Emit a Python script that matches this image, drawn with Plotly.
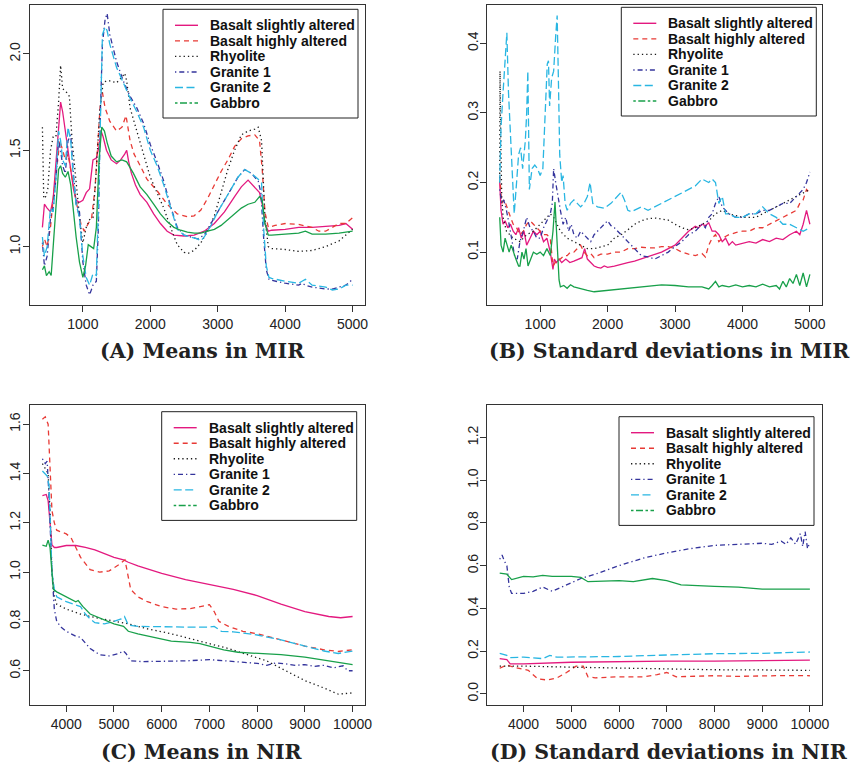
import plotly.graph_objects as go

W, H = 857, 766

series_names = ["Basalt slightly altered", "Basalt highly altered", "Rhyolite",
                "Granite 1", "Granite 2", "Gabbro"]
series_colors = ["#E3197F", "#E83A35", "#1A1A1A", "#34349C", "#29B6E2", "#18A04A"]
plot_dash = ["solid", "5px,4px", "1.3px,3px", "1.3px,3px,5px,3px", "8px,3.5px", "solid"]
legend_dash = ["solid", "5px,4px", "1.3px,3px", "1.3px,3px,5px,3px", "8px,3.5px", "2.5px,2.5px,7px,2.5px"]

# ---------------- Panel A: means in MIR ----------------
A_bsa_x = [400,430,470,520,560,600,640,670,700,740,780,820,860,900,950,1000,1050,1100,1150,1200,1240,1270,1300,1350,1420,1500,1560,1620,1650,1680,1720,1780,1850,1950,2050,2150,2250,2350,2500,2650,2800,2950,3100,3250,3350,3450,3550,3620,3660,3700,3750,3800,4000,4200,4400,4600,4800,4900,5000]
A_bsa_y = [1.10,1.22,1.20,1.18,1.25,1.45,1.60,1.75,1.70,1.60,1.52,1.40,1.30,1.24,1.23,1.24,1.28,1.30,1.45,1.46,1.52,1.60,1.57,1.50,1.45,1.43,1.45,1.48,1.50,1.44,1.38,1.32,1.27,1.23,1.17,1.12,1.08,1.06,1.055,1.06,1.08,1.12,1.18,1.26,1.31,1.345,1.31,1.28,1.22,1.12,1.08,1.085,1.09,1.10,1.10,1.105,1.11,1.12,1.09]
A_bha_x = [400,430,470,520,560,620,660,700,740,780,820,870,920,970,1020,1080,1130,1180,1220,1260,1290,1330,1400,1500,1580,1640,1700,1760,1850,1950,2100,2250,2400,2550,2650,2750,2850,2950,3050,3150,3250,3350,3450,3550,3620,3660,3700,3750,3850,4000,4200,4400,4500,4600,4700,4800,4900,5000]
A_bha_y = [1.00,1.04,1.00,1.10,1.25,1.45,1.55,1.50,1.45,1.48,1.40,1.28,1.20,1.12,1.08,1.12,1.15,1.30,1.55,1.75,1.80,1.72,1.65,1.60,1.62,1.68,1.55,1.48,1.42,1.35,1.29,1.22,1.17,1.155,1.16,1.19,1.25,1.32,1.39,1.45,1.52,1.56,1.575,1.58,1.55,1.40,1.18,1.10,1.11,1.12,1.115,1.10,1.08,1.08,1.10,1.12,1.12,1.15]
A_rhy_x = [400,405,420,450,480,520,560,600,640,670,700,760,800,840,880,920,960,1000,1050,1100,1150,1200,1250,1300,1350,1400,1500,1580,1620,1650,1700,1800,1900,2000,2100,2200,2300,2400,2500,2560,2650,2750,2850,2950,3050,3150,3250,3350,3450,3550,3600,3650,3700,3750,3800,4000,4200,4400,4600,4800,5000]
A_rhy_y = [1.62,1.45,1.25,1.26,1.30,1.50,1.57,1.57,1.75,1.94,1.82,1.80,1.78,1.55,1.40,1.25,1.12,1.02,1.10,1.14,1.15,1.40,1.70,1.85,1.86,1.86,1.85,1.88,1.90,1.86,1.72,1.60,1.48,1.36,1.28,1.20,1.10,1.01,0.97,0.965,0.98,1.02,1.08,1.16,1.28,1.40,1.50,1.58,1.60,1.61,1.62,1.55,1.15,1.00,0.99,0.985,0.975,0.98,1.00,1.03,1.09]
A_g1_x = [400,430,470,520,560,600,640,670,700,740,780,820,860,900,950,1000,1050,1100,1150,1200,1230,1260,1290,1330,1360,1400,1500,1600,1700,1800,1900,2000,2100,2200,2300,2400,2500,2600,2700,2800,2900,3000,3100,3200,3300,3400,3500,3600,3640,3680,3720,3760,3800,4000,4200,4250,4300,4400,4600,4700,4800,4900,5000]
A_g1_y = [1.02,0.90,0.95,1.15,1.20,1.35,1.55,1.50,1.42,1.38,1.55,1.58,1.38,1.22,1.18,0.92,0.80,0.75,0.80,0.82,1.10,1.70,2.05,2.18,2.21,2.10,1.96,1.86,1.78,1.72,1.64,1.53,1.44,1.34,1.21,1.10,1.06,1.05,1.04,1.06,1.12,1.18,1.24,1.30,1.36,1.40,1.38,1.34,1.28,1.05,0.88,0.83,0.825,0.81,0.80,0.81,0.80,0.79,0.78,0.78,0.79,0.80,0.83]
A_g2_x = [400,430,470,520,560,600,640,670,700,740,780,820,860,900,950,1000,1050,1100,1150,1200,1230,1260,1290,1330,1360,1400,1500,1600,1700,1800,1900,2000,2100,2200,2300,2400,2500,2600,2700,2750,2800,2900,3000,3100,3200,3300,3400,3500,3600,3650,3680,3720,3760,3800,4000,4200,4250,4300,4400,4500,4600,4700,4800,4900,5000]
A_g2_y = [1.05,0.95,1.00,1.20,1.18,1.35,1.60,1.55,1.45,1.42,1.62,1.55,1.35,1.22,1.15,0.95,0.84,0.80,0.86,0.85,1.20,1.75,2.10,2.14,2.12,2.05,1.93,1.85,1.77,1.70,1.62,1.50,1.42,1.32,1.20,1.09,1.06,1.05,1.04,1.03,1.05,1.11,1.18,1.24,1.30,1.36,1.40,1.38,1.35,1.33,1.10,0.90,0.84,0.835,0.82,0.81,0.82,0.83,0.80,0.795,0.79,0.775,0.78,0.80,0.80]
A_gab_x = [400,430,460,500,530,560,600,640,670,700,740,780,820,860,900,950,1000,1040,1080,1120,1160,1200,1240,1280,1320,1360,1420,1500,1580,1650,1750,1850,1950,2050,2150,2250,2350,2450,2550,2650,2750,2850,2950,3050,3150,3250,3350,3450,3550,3620,3660,3700,3750,3800,4000,4200,4300,4400,4600,4800,5000]
A_gab_y = [0.88,0.90,0.85,0.87,0.85,1.00,1.20,1.40,1.42,1.38,1.36,1.39,1.32,1.18,1.05,0.92,0.84,0.90,1.01,1.00,0.99,1.10,1.45,1.62,1.60,1.54,1.47,1.44,1.45,1.44,1.38,1.31,1.27,1.22,1.17,1.13,1.10,1.085,1.075,1.07,1.07,1.08,1.09,1.11,1.14,1.17,1.20,1.22,1.23,1.26,1.24,1.12,1.06,1.06,1.065,1.07,1.08,1.065,1.065,1.07,1.08]

# ---------------- Panel B: standard deviations in MIR ----------------
B_bsa_x = [400,420,450,480,520,560,600,640,680,720,760,800,850,900,950,1000,1050,1100,1150,1190,1210,1240,1280,1320,1380,1440,1500,1560,1620,1660,1700,1750,1800,1850,1900,1950,2000,2100,2200,2300,2400,2500,2600,2700,2800,2900,3000,3100,3200,3300,3350,3400,3450,3500,3550,3600,3650,3700,3750,3800,3850,3900,4000,4100,4200,4300,4400,4500,4600,4700,4800,4850,4900,4950,5000]
B_bsa_y = [0.20,0.16,0.14,0.145,0.135,0.14,0.13,0.125,0.135,0.12,0.13,0.11,0.12,0.13,0.125,0.13,0.115,0.12,0.10,0.075,0.09,0.085,0.09,0.085,0.09,0.085,0.087,0.09,0.092,0.105,0.09,0.085,0.08,0.078,0.077,0.08,0.078,0.08,0.083,0.085,0.087,0.09,0.093,0.096,0.10,0.105,0.11,0.12,0.13,0.137,0.135,0.14,0.138,0.142,0.13,0.13,0.125,0.115,0.12,0.11,0.115,0.11,0.112,0.115,0.113,0.118,0.115,0.12,0.118,0.125,0.13,0.125,0.14,0.16,0.14]
B_bha_x = [400,430,470,520,560,600,650,700,750,800,850,900,950,1000,1050,1100,1150,1190,1220,1260,1300,1350,1400,1450,1500,1550,1600,1650,1700,1750,1800,1850,1900,2000,2100,2200,2300,2400,2500,2600,2700,2800,2900,3000,3100,3200,3300,3400,3450,3500,3550,3600,3650,3700,3800,3900,4000,4100,4200,4300,4400,4500,4600,4700,4800,4850,4900,4950,5000]
B_bha_y = [0.21,0.17,0.175,0.16,0.15,0.14,0.135,0.125,0.13,0.14,0.145,0.14,0.135,0.13,0.125,0.125,0.12,0.08,0.085,0.09,0.09,0.095,0.095,0.10,0.10,0.105,0.11,0.10,0.095,0.098,0.092,0.095,0.097,0.097,0.10,0.10,0.105,0.105,0.107,0.106,0.106,0.108,0.108,0.105,0.10,0.097,0.095,0.098,0.093,0.11,0.12,0.125,0.115,0.12,0.125,0.128,0.13,0.13,0.135,0.135,0.14,0.145,0.15,0.155,0.16,0.17,0.175,0.19,0.185]
B_rhy_x = [400,405,410,430,450,500,550,600,700,800,900,1000,1100,1150,1200,1300,1400,1500,1600,1700,1800,1900,2000,2100,2200,2300,2400,2500,2600,2700,2800,2900,3000,3100,3200,3300,3400,3500,3600,3700,3800,3900,4000,4100,4200,4300,4400,4500,4600,4700,4800,4900,5000]
B_rhy_y = [0.20,0.36,0.30,0.18,0.15,0.13,0.125,0.12,0.115,0.125,0.13,0.14,0.15,0.155,0.15,0.13,0.12,0.115,0.11,0.105,0.105,0.107,0.11,0.12,0.125,0.132,0.14,0.145,0.148,0.149,0.148,0.146,0.14,0.135,0.132,0.135,0.14,0.145,0.155,0.16,0.155,0.152,0.15,0.15,0.15,0.155,0.16,0.165,0.17,0.175,0.18,0.185,0.19]
B_g1_x = [400,430,460,500,540,580,620,660,700,750,800,850,900,950,1000,1050,1100,1150,1180,1200,1230,1260,1300,1340,1380,1420,1460,1500,1550,1600,1650,1700,1750,1800,1850,1900,1950,2000,2050,2100,2200,2300,2400,2500,2600,2700,2800,2900,3000,3100,3200,3300,3400,3450,3500,3550,3600,3650,3700,3750,3800,3900,4000,4100,4200,4300,4400,4500,4600,4700,4800,4900,4950,5000]
B_g1_y = [0.19,0.17,0.175,0.16,0.14,0.12,0.095,0.09,0.115,0.13,0.15,0.135,0.13,0.12,0.12,0.135,0.145,0.155,0.17,0.22,0.20,0.18,0.16,0.14,0.15,0.13,0.14,0.125,0.12,0.13,0.125,0.12,0.115,0.125,0.13,0.135,0.14,0.145,0.138,0.135,0.125,0.115,0.105,0.095,0.093,0.09,0.095,0.10,0.108,0.115,0.125,0.13,0.14,0.135,0.15,0.155,0.17,0.18,0.165,0.16,0.155,0.15,0.15,0.155,0.155,0.16,0.16,0.165,0.17,0.17,0.18,0.19,0.20,0.215]
B_g2_x = [400,420,450,480,506,530,560,590,615,650,680,710,740,780,800,817,840,880,920,960,1000,1040,1080,1105,1123,1140,1170,1200,1230,1252,1270,1290,1320,1340,1370,1400,1450,1500,1550,1600,1650,1700,1740,1780,1850,1950,2050,2150,2200,2250,2300,2350,2400,2500,2600,2700,2800,2900,3000,3100,3200,3300,3400,3500,3550,3600,3650,3700,3750,3800,3900,4000,4100,4200,4300,4400,4500,4600,4700,4800,4900,5000]
B_g2_y = [0.20,0.28,0.33,0.38,0.415,0.33,0.27,0.20,0.155,0.20,0.24,0.25,0.22,0.26,0.30,0.36,0.19,0.22,0.225,0.22,0.21,0.22,0.30,0.37,0.375,0.31,0.35,0.36,0.41,0.44,0.35,0.24,0.20,0.21,0.17,0.16,0.17,0.175,0.17,0.165,0.17,0.18,0.20,0.17,0.165,0.163,0.17,0.18,0.186,0.175,0.16,0.158,0.16,0.165,0.16,0.165,0.17,0.175,0.18,0.185,0.19,0.195,0.205,0.20,0.205,0.20,0.17,0.18,0.155,0.155,0.15,0.15,0.155,0.155,0.165,0.155,0.15,0.14,0.14,0.135,0.13,0.135]
B_gab_x = [400,420,450,480,510,540,570,600,640,680,700,730,760,790,820,860,900,950,1000,1050,1100,1150,1190,1220,1240,1260,1280,1300,1350,1400,1450,1500,1600,1700,1800,1900,2000,2200,2400,2600,2800,3000,3200,3400,3500,3550,3600,3650,3700,3800,3900,4000,4100,4200,4300,4400,4500,4550,4600,4650,4700,4750,4800,4850,4900,4950,5000]
B_gab_y = [0.15,0.11,0.10,0.12,0.11,0.10,0.11,0.10,0.09,0.08,0.08,0.10,0.09,0.105,0.08,0.09,0.10,0.097,0.10,0.095,0.105,0.095,0.13,0.172,0.13,0.08,0.06,0.05,0.052,0.048,0.053,0.05,0.047,0.045,0.043,0.044,0.045,0.047,0.05,0.052,0.053,0.052,0.05,0.05,0.047,0.052,0.058,0.05,0.052,0.05,0.053,0.05,0.052,0.05,0.054,0.05,0.052,0.047,0.058,0.05,0.062,0.055,0.068,0.052,0.07,0.05,0.068]

# ---------------- Panel C: means in NIR ----------------
C_bsa_x = [3500,3580,3620,3660,3700,3750,3800,4000,4200,4400,4600,4800,5000,5200,5300,5500,6000,6500,7000,7500,8000,8500,9000,9500,9750,10000]
C_bsa_y = [1.31,1.315,1.29,1.20,1.11,1.10,1.10,1.108,1.108,1.10,1.09,1.075,1.06,1.05,1.04,1.025,0.995,0.97,0.95,0.93,0.905,0.87,0.84,0.82,0.815,0.82]
C_bha_x = [3500,3560,3620,3660,3700,3750,3800,4000,4100,4200,4300,4500,4700,4900,5100,5230,5280,5350,5500,5700,6000,6300,6600,6800,7000,7100,7200,7400,7700,8000,8300,8600,9000,9400,9700,10000]
C_bha_y = [1.62,1.63,1.60,1.40,1.25,1.20,1.17,1.155,1.14,1.10,1.06,1.01,1.00,1.005,1.03,1.05,1.00,0.93,0.90,0.88,0.86,0.85,0.852,0.86,0.868,0.84,0.80,0.78,0.76,0.75,0.735,0.72,0.70,0.685,0.678,0.685]
C_rhy_x = [3500,3560,3620,3660,3700,3750,3800,4000,4300,4500,5000,5300,5700,6200,6600,7000,7400,7800,8200,8600,9000,9400,9700,10000]
C_rhy_y = [1.44,1.42,1.40,1.25,1.00,0.90,0.87,0.85,0.83,0.82,0.80,0.79,0.77,0.75,0.73,0.71,0.69,0.665,0.64,0.60,0.56,0.53,0.505,0.51]
C_g1_x = [3500,3560,3600,3640,3700,3750,3800,3900,4000,4200,4300,4400,4500,4700,4900,5100,5200,5250,5350,5600,6000,6500,7000,7300,7600,8000,8200,8400,8600,8800,9000,9200,9400,9600,9800,9900,10000]
C_g1_y = [1.46,1.44,1.45,1.30,1.00,0.85,0.80,0.775,0.76,0.74,0.735,0.71,0.69,0.665,0.66,0.67,0.68,0.67,0.64,0.637,0.637,0.64,0.645,0.64,0.635,0.63,0.622,0.632,0.628,0.622,0.625,0.618,0.622,0.612,0.62,0.60,0.60]
C_g2_x = [3500,3560,3600,3640,3700,3750,3800,4000,4200,4300,4400,4500,4600,4800,5000,5150,5220,5300,5500,6000,6500,7000,7100,7250,7500,8000,8500,9000,9400,9700,10000]
C_g2_y = [1.41,1.40,1.39,1.35,1.00,0.93,0.90,0.88,0.865,0.86,0.83,0.81,0.795,0.79,0.80,0.81,0.82,0.785,0.78,0.778,0.777,0.777,0.78,0.76,0.758,0.745,0.725,0.70,0.68,0.67,0.68]
C_gab_x = [3500,3580,3620,3660,3700,3730,3800,4000,4150,4200,4250,4350,4500,4700,5000,5200,5300,5500,6000,6200,6600,6800,7000,7300,7600,8000,8500,9000,9500,10000]
C_gab_y = [1.11,1.105,1.13,1.10,1.00,0.93,0.92,0.90,0.885,0.88,0.885,0.86,0.83,0.815,0.79,0.78,0.76,0.75,0.73,0.72,0.715,0.71,0.70,0.685,0.675,0.67,0.665,0.655,0.64,0.625]

# ---------------- Panel D: standard deviations in NIR ----------------
D_bsa_x = [3500,3650,3720,4000,5000,6000,7000,8000,9000,10000]
D_bsa_y = [0.165,0.16,0.14,0.14,0.148,0.152,0.153,0.153,0.155,0.158]
D_bha_x = [3500,3650,3800,4100,4300,4500,4700,4900,5100,5250,5350,5500,6000,6500,6800,7000,7200,7500,8000,8500,9000,9500,10000]
D_bha_y = [0.12,0.135,0.125,0.11,0.07,0.065,0.075,0.10,0.13,0.13,0.08,0.075,0.08,0.08,0.09,0.10,0.08,0.083,0.085,0.082,0.085,0.086,0.085]
D_rhy_x = [3500,4000,5000,6000,7000,8000,9000,10000]
D_rhy_y = [0.13,0.13,0.125,0.12,0.115,0.113,0.112,0.11]
D_g1_x = [3500,3550,3600,3650,3700,3750,4000,4200,4400,4600,4800,5000,5200,5500,6000,6500,7000,7500,8000,8500,9000,9200,9400,9500,9600,9700,9800,9850,9900,9950,10000]
D_g1_y = [0.63,0.65,0.62,0.60,0.50,0.47,0.47,0.48,0.50,0.48,0.50,0.52,0.54,0.56,0.60,0.635,0.66,0.68,0.695,0.70,0.705,0.70,0.715,0.70,0.73,0.70,0.75,0.69,0.76,0.68,0.71]
D_g2_x = [3500,3650,3720,4000,4400,4550,4700,5000,5300,6000,7000,8000,9000,10000]
D_g2_y = [0.19,0.18,0.17,0.172,0.165,0.18,0.172,0.172,0.175,0.175,0.182,0.188,0.19,0.196]
D_gab_x = [3500,3600,3650,3750,4000,4200,4400,4600,5000,5200,5350,6000,6300,6700,7000,7300,7700,8000,8500,9000,9500,10000]
D_gab_y = [0.565,0.56,0.56,0.535,0.55,0.548,0.555,0.55,0.55,0.545,0.525,0.53,0.525,0.54,0.53,0.51,0.505,0.503,0.50,0.49,0.49,0.49]

# tick values
MIR_xticks = [1000, 2000, 3000, 4000, 5000]
NIR_xticks = [4000, 5000, 6000, 7000, 8000, 9000, 10000]
A_yticks = [1.0, 1.5, 2.0]
B_yticks = [0.1, 0.2, 0.3, 0.4]
C_yticks = [0.6, 0.8, 1.0, 1.2, 1.4, 1.6]
D_yticks = [0.0, 0.2, 0.4, 0.6, 0.8, 1.0, 1.2]

titles = ["(A) Means in MIR", "(B) Standard deviations in MIR",
          "(C) Means in NIR", "(D) Standard deviations in NIR"]

panels = [
    dict(ax="", data=[(A_bsa_x, A_bsa_y), (A_bha_x, A_bha_y), (A_rhy_x, A_rhy_y),
                      (A_g1_x, A_g1_y), (A_g2_x, A_g2_y), (A_gab_x, A_gab_y)],
         box=(30, 5, 365, 305), xr=[216, 5184], yr=[0.697, 2.254],
         xt=MIR_xticks, yt=A_yticks, leg=(163, 9.3), title=(202.5, 351.5)),
    dict(ax="2", data=[(B_bsa_x, B_bsa_y), (B_bha_x, B_bha_y), (B_rhy_x, B_rhy_y),
                       (B_g1_x, B_g1_y), (B_g2_x, B_g2_y), (B_gab_x, B_gab_y)],
         box=(487.3, 5, 822.3, 305), xr=[216, 5184], yr=[0.024, 0.455],
         xt=MIR_xticks, yt=B_yticks, leg=(621.3, 7.3), title=(669, 351.5)),
    dict(ax="3", data=[(C_bsa_x, C_bsa_y), (C_bha_x, C_bha_y), (C_rhy_x, C_rhy_y),
                       (C_g1_x, C_g1_y), (C_g2_x, C_g2_y), (C_gab_x, C_gab_y)],
         box=(30, 405, 365, 705), xr=[3240, 10260], yr=[0.461, 1.678],
         xt=NIR_xticks, yt=C_yticks, leg=(161.7, 411.7), title=(201.5, 751.5)),
    dict(ax="4", data=[(D_bsa_x, D_bsa_y), (D_bha_x, D_bha_y), (D_rhy_x, D_rhy_y),
                       (D_g1_x, D_g1_y), (D_g2_x, D_g2_y), (D_gab_x, D_gab_y)],
         box=(487.3, 405, 822.3, 705), xr=[3240, 10260], yr=[-0.052, 1.352],
         xt=NIR_xticks, yt=D_yticks, leg=(619, 416.7), title=(669, 751.5)),
]


def px(x):
    return x / W


def py(y):
    return 1 - y / H


fig = go.Figure()
shapes = []
annotations = []
tickfont = dict(family="Liberation Sans, Arial, sans-serif", size=14, color="#222")
legfont = dict(family="Liberation Sans, Arial, sans-serif", size=14, color="#111", weight="bold")
titlefont = dict(family="DejaVu Serif, serif", size=20.5, color="#222", weight="bold")

layout_axes = {}
for k, p in enumerate(panels):
    ax = p["ax"]
    for i, (xs, ys) in enumerate(p["data"]):
        assert len(xs) == len(ys), (k, i, len(xs), len(ys))
        fig.add_trace(go.Scatter(
            x=xs, y=ys, mode="lines", name=series_names[i], showlegend=False,
            line=dict(color=series_colors[i], width=1.3, dash=plot_dash[i]),
            xaxis="x" + ax, yaxis="y" + ax, hoverinfo="x+y+name"))
    x0, y0, x1, y1 = p["box"]
    common = dict(showline=True, mirror=True, linecolor="#333", linewidth=1,
                  ticks="outside", ticklen=6, tickcolor="#333", tickwidth=1,
                  showgrid=False, zeroline=False, tickfont=tickfont, automargin=False)
    layout_axes["xaxis" + ax] = dict(
        domain=[px(x0), px(x1)], range=p["xr"], anchor="y" + ax,
        tickvals=p["xt"], ticktext=[str(v) for v in p["xt"]], **common)
    layout_axes["yaxis" + ax] = dict(
        domain=[py(y1), py(y0)], range=p["yr"], anchor="x" + ax,
        tickvals=p["yt"], ticktext=[f"{v:.1f}" for v in p["yt"]], tickangle=-90,
        ticklabelstandoff=-3, **common)

    # legend box (drawn from the series names / styles)
    lx, ly = p["leg"]
    bw, bh = 195, 108.7
    shapes.append(dict(type="rect", xref="paper", yref="paper",
                       x0=px(lx), x1=px(lx + bw), y0=py(ly + bh), y1=py(ly),
                       line=dict(color="#222", width=1), fillcolor="white", layer="above"))
    for i, nm in enumerate(series_names):
        ry = ly + 16 + i * 15.55
        shapes.append(dict(type="line", xref="paper", yref="paper",
                           x0=px(lx + 12), x1=px(lx + 35), y0=py(ry), y1=py(ry),
                           line=dict(color=series_colors[i], width=1.4, dash=legend_dash[i]),
                           layer="above"))
        annotations.append(dict(text=nm, xref="paper", yref="paper", x=px(lx + 45),
                                y=py(ry), xanchor="left", yanchor="middle",
                                showarrow=False, font=legfont))
    tx, ty = p["title"]
    annotations.append(dict(text=titles[k], xref="paper", yref="paper", x=px(tx), y=py(ty),
                            xanchor="center", yanchor="middle", showarrow=False,
                            font=titlefont))

fig.update_layout(width=W, height=H, margin=dict(l=0, r=0, t=0, b=0),
                  paper_bgcolor="white", plot_bgcolor="white", showlegend=False,
                  shapes=shapes, annotations=annotations, **layout_axes)

fig.write_html("out.html", config={"displayModeBar": False},
               post_script="document.body.style.margin='0';document.body.style.overflow='hidden';")
